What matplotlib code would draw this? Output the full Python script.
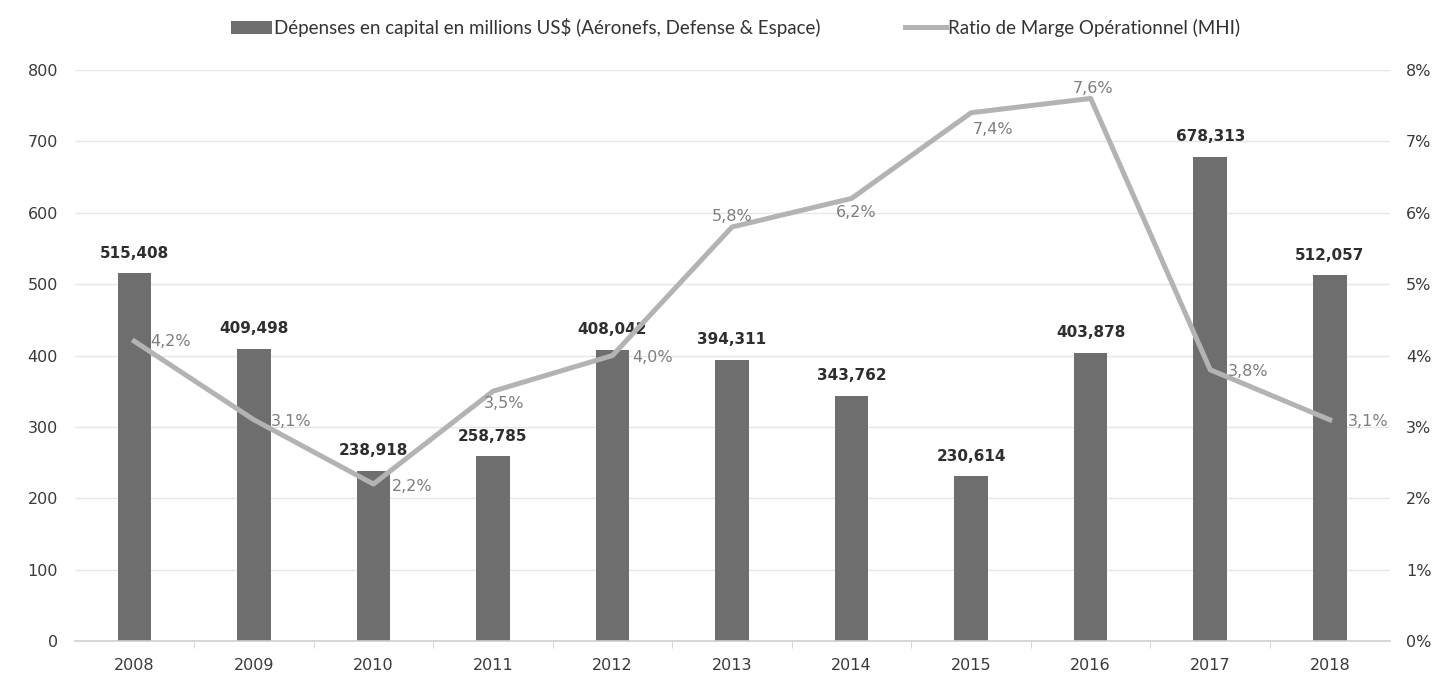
import matplotlib
matplotlib.use("Agg")
import matplotlib.pyplot as plt
from matplotlib.lines import Line2D
from matplotlib.patches import Patch

plt.rcParams["font.family"] = ["DejaVu Sans"]

years = ["2008", "2009", "2010", "2011", "2012", "2013", "2014", "2015", "2016", "2017", "2018"]
capex = [515.408, 409.498, 238.918, 258.785, 408.042, 394.311, 343.762, 230.614, 403.878, 678.313, 512.057]
margin = [4.2, 3.1, 2.2, 3.5, 4.0, 5.8, 6.2, 7.4, 7.6, 3.8, 3.1]
# where each percentage label sits relative to its point: (dx px, dy px, ha)
margin_label_pos = [
    (16, 0, "left"),
    (17, -2, "left"),
    (18, -2, "left"),
    (-9, -12, "left"),
    (20, -2, "left"),
    (0, 10, "center"),
    (5, -14, "center"),
    (22, -17, "center"),
    (2, 10, "center"),
    (18, -2, "left"),
    (18, -2, "left"),
]

bar_color = "#6e6e6e"
line_color = "#b3b3b3"
grid_color = "#e6e6e6"
tick_color = "#3a3a3a"

fig = plt.figure(figsize=(14.34, 6.85), dpi=100)
ax = fig.add_axes([0.052, 0.064, 0.917, 0.834])
ax2 = ax.twinx()

x = list(range(len(years)))
ax.bar(x, capex, width=0.28, color=bar_color, zorder=2)
ax.set_xlim(-0.5, len(years) - 0.5)
ax.set_ylim(0, 800)
ax.set_yticks(range(0, 801, 100))
ax.set_xticks(x)
ax.set_xticklabels(years)
ax.set_xticks([i + 0.5 for i in x[:-1]], minor=True)
ax.grid(axis="y", color=grid_color, linewidth=1, zorder=0)
ax.set_axisbelow(True)

for side in ("top", "left", "right"):
    ax.spines[side].set_visible(False)
    ax2.spines[side].set_visible(False)
ax2.spines["bottom"].set_visible(False)
ax.spines["bottom"].set_color("#cfcfcf")
ax.spines["bottom"].set_linewidth(1.2)

ax.tick_params(axis="y", length=0, labelsize=11.5, colors=tick_color, pad=12)
ax.tick_params(axis="x", which="major", length=0, labelsize=11.5, colors=tick_color, pad=12)
ax.tick_params(axis="x", which="minor", length=5, color="#cfcfcf")

for xi, v in zip(x, capex):
    ax.annotate(f"{v:.3f}".replace(".", ","), (xi, v), xytext=(0, 9), textcoords="offset points",
                ha="center", va="bottom", fontsize=11, fontweight="bold", color="#2e2e2e")

ax2.plot(x, margin, color=line_color, linewidth=3.6, solid_joinstyle="round", zorder=3)
ax2.set_ylim(0, 8)
ax2.set_yticks(range(0, 9))
ax2.set_yticklabels([f"{i}%" for i in range(0, 9)])
ax2.tick_params(axis="y", length=0, labelsize=11.5, colors=tick_color, pad=12)

for xi, m, (dx, dy, ha) in zip(x, margin, margin_label_pos):
    ax2.annotate(f"{m:.1f}%".replace(".", ","), (xi, m), xytext=(dx * 0.72, dy * 0.72),
                 textcoords="offset points", ha=ha, va="center", fontsize=11.5, color="#7d7d7d",
                 zorder=5)

handles = [
    Patch(facecolor=bar_color, edgecolor="none"),
    Line2D([0], [0], color=line_color, linewidth=3.6),
]
labels = [
    "Dépenses en capital en millions US$ (Aéronefs, Defense & Espace)",
    "Ratio de Marge Opérationnel (MHI)",
]
fig.legend(handles, labels, loc="center", bbox_to_anchor=(0.513, 0.96), ncol=2, frameon=False,
           prop={"family": "Lato", "size": 13.5}, handlelength=2.2, handletextpad=0.1,
           columnspacing=4.5, labelcolor="#333333")

fig.savefig("out.png", dpi=100, facecolor="white")
